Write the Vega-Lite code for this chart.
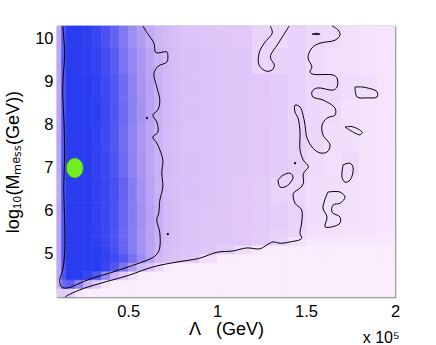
{
"$schema":"https://vega.github.io/schema/vega-lite/v6.json",
"width":338,"height":271,
"autosize":{"type":"none"},
"padding":{"left":57,"top":26,"right":41,"bottom":48},
"background":"white",
"title":{"text":"x 10⁵","orient":"bottom","anchor":"end","offset":-9,"fontSize":16,"fontWeight":"normal","font":"Liberation Sans","color":"black"},
"config":{"view":{"stroke":null},"axis":{"labelFont":"Liberation Sans","titleFont":"Liberation Sans","labelFontSize":16.5,"titleFontSize":18,"labelColor":"black","titleColor":"black","titleFontWeight":"normal","grid":false,"domainColor":"#808080","domainWidth":1.5,"tickColor":"#555555","tickSize":-4,"labelFlush":false,"zindex":1}},
"datasets":{
"cols":[{"c":1,"x0":0.1,"x1":0.125},{"c":2,"x0":0.125,"x1":0.15},{"c":3,"x0":0.15,"x1":0.2},{"c":4,"x0":0.2,"x1":0.25},{"c":5,"x0":0.25,"x1":0.3},{"c":6,"x0":0.3,"x1":0.35},{"c":7,"x0":0.35,"x1":0.4},{"c":8,"x0":0.4,"x1":0.45},{"c":9,"x0":0.45,"x1":0.5},{"c":10,"x0":0.5,"x1":0.55},{"c":11,"x0":0.55,"x1":0.6},{"c":12,"x0":0.6,"x1":0.65},{"c":13,"x0":0.65,"x1":0.7},{"c":14,"x0":0.7,"x1":0.75},{"c":15,"x0":0.75,"x1":0.8},{"c":16,"x0":0.8,"x1":0.9},{"c":17,"x0":0.9,"x1":1.0},{"c":18,"x0":1.0,"x1":1.1},{"c":19,"x0":1.1,"x1":1.2},{"c":20,"x0":1.2,"x1":1.3},{"c":21,"x0":1.3,"x1":1.4},{"c":22,"x0":1.4,"x1":1.5},{"c":23,"x0":1.5,"x1":1.6},{"c":24,"x0":1.6,"x1":1.7},{"c":25,"x0":1.7,"x1":1.8},{"c":26,"x0":1.8,"x1":1.9},{"c":27,"x0":1.9,"x1":2.0}],
"rows":[{"r":1,"y0":4.0,"y1":4.2},{"r":2,"y0":4.2,"y1":4.4},{"r":3,"y0":4.4,"y1":4.6},{"r":4,"y0":4.6,"y1":4.8},{"r":5,"y0":4.8,"y1":5.0},{"r":6,"y0":5.0,"y1":5.2},{"r":7,"y0":5.2,"y1":5.4},{"r":8,"y0":5.4,"y1":5.6},{"r":9,"y0":5.6,"y1":6.2},{"r":10,"y0":6.2,"y1":6.8},{"r":11,"y0":6.8,"y1":7.4},{"r":12,"y0":7.4,"y1":8.0},{"r":13,"y0":8.0,"y1":8.6},{"r":14,"y0":8.6,"y1":9.2},{"r":15,"y0":9.2,"y1":9.8},{"r":16,"y0":9.8,"y1":10.3}],
"cells":[
{"c":1,"r":1,"d":0.25},{"c":2,"r":1,"d":0.27},{"c":3,"r":1,"d":0.24},{"c":4,"r":1,"d":0.12},{"c":5,"r":1,"d":0.04},{"c":6,"r":1,"d":0.03},{"c":7,"r":1,"d":0.03},{"c":8,"r":1,"d":0.03},{"c":9,"r":1,"d":0.03},{"c":10,"r":1,"d":0.03},{"c":11,"r":1,"d":0.03},{"c":12,"r":1,"d":0.03},{"c":13,"r":1,"d":0.03},{"c":14,"r":1,"d":0.03},{"c":15,"r":1,"d":0.03},{"c":16,"r":1,"d":0.03},{"c":17,"r":1,"d":0.03},{"c":18,"r":1,"d":0.03},{"c":19,"r":1,"d":0.03},{"c":20,"r":1,"d":0.03},{"c":21,"r":1,"d":0.03},{"c":22,"r":1,"d":0.02},{"c":23,"r":1,"d":0.02},{"c":24,"r":1,"d":0.02},{"c":25,"r":1,"d":0.02},{"c":26,"r":1,"d":0.02},{"c":27,"r":1,"d":0.02},
{"c":1,"r":2,"d":0.4},{"c":2,"r":2,"d":0.75},{"c":3,"r":2,"d":0.8},{"c":4,"r":2,"d":0.62},{"c":5,"r":2,"d":0.38},{"c":6,"r":2,"d":0.26},{"c":7,"r":2,"d":0.1},{"c":8,"r":2,"d":0.03},{"c":9,"r":2,"d":0.03},{"c":10,"r":2,"d":0.03},{"c":11,"r":2,"d":0.03},{"c":12,"r":2,"d":0.03},{"c":13,"r":2,"d":0.03},{"c":14,"r":2,"d":0.03},{"c":15,"r":2,"d":0.03},{"c":16,"r":2,"d":0.03},{"c":17,"r":2,"d":0.03},{"c":18,"r":2,"d":0.03},{"c":19,"r":2,"d":0.03},{"c":20,"r":2,"d":0.03},{"c":21,"r":2,"d":0.03},{"c":22,"r":2,"d":0.03},{"c":23,"r":2,"d":0.03},{"c":24,"r":2,"d":0.03},{"c":25,"r":2,"d":0.03},{"c":26,"r":2,"d":0.03},{"c":27,"r":2,"d":0.03},
{"c":1,"r":3,"d":0.45},{"c":2,"r":3,"d":0.85},{"c":3,"r":3,"d":1},{"c":4,"r":3,"d":1},{"c":5,"r":3,"d":0.95},{"c":6,"r":3,"d":0.85},{"c":7,"r":3,"d":0.6},{"c":8,"r":3,"d":0.38},{"c":9,"r":3,"d":0.28},{"c":10,"r":3,"d":0.15},{"c":11,"r":3,"d":0.06},{"c":12,"r":3,"d":0.03},{"c":13,"r":3,"d":0.03},{"c":14,"r":3,"d":0.03},{"c":15,"r":3,"d":0.03},{"c":16,"r":3,"d":0.03},{"c":17,"r":3,"d":0.03},{"c":18,"r":3,"d":0.03},{"c":19,"r":3,"d":0.03},{"c":20,"r":3,"d":0.03},{"c":21,"r":3,"d":0.03},{"c":22,"r":3,"d":0.03},{"c":23,"r":3,"d":0.03},{"c":24,"r":3,"d":0.03},{"c":25,"r":3,"d":0.03},{"c":26,"r":3,"d":0.03},{"c":27,"r":3,"d":0.03},
{"c":1,"r":4,"d":0.45},{"c":2,"r":4,"d":0.85},{"c":3,"r":4,"d":1},{"c":4,"r":4,"d":1},{"c":5,"r":4,"d":1},{"c":6,"r":4,"d":1},{"c":7,"r":4,"d":0.95},{"c":8,"r":4,"d":0.85},{"c":9,"r":4,"d":0.7},{"c":10,"r":4,"d":0.5},{"c":11,"r":4,"d":0.36},{"c":12,"r":4,"d":0.3},{"c":13,"r":4,"d":0.18},{"c":14,"r":4,"d":0.07},{"c":15,"r":4,"d":0.04},{"c":16,"r":4,"d":0.03},{"c":17,"r":4,"d":0.03},{"c":18,"r":4,"d":0.03},{"c":19,"r":4,"d":0.03},{"c":20,"r":4,"d":0.03},{"c":21,"r":4,"d":0.03},{"c":22,"r":4,"d":0.03},{"c":23,"r":4,"d":0.03},{"c":24,"r":4,"d":0.03},{"c":25,"r":4,"d":0.03},{"c":26,"r":4,"d":0.03},{"c":27,"r":4,"d":0.03},
{"c":1,"r":5,"d":0.45},{"c":2,"r":5,"d":0.85},{"c":3,"r":5,"d":1},{"c":4,"r":5,"d":1},{"c":5,"r":5,"d":1},{"c":6,"r":5,"d":1},{"c":7,"r":5,"d":0.97},{"c":8,"r":5,"d":0.92},{"c":9,"r":5,"d":0.84},{"c":10,"r":5,"d":0.72},{"c":11,"r":5,"d":0.58},{"c":12,"r":5,"d":0.46},{"c":13,"r":5,"d":0.36},{"c":14,"r":5,"d":0.32},{"c":15,"r":5,"d":0.3},{"c":16,"r":5,"d":0.28},{"c":17,"r":5,"d":0.16},{"c":18,"r":5,"d":0.05},{"c":19,"r":5,"d":0.04},{"c":20,"r":5,"d":0.04},{"c":21,"r":5,"d":0.04},{"c":22,"r":5,"d":0.04},{"c":23,"r":5,"d":0.04},{"c":24,"r":5,"d":0.04},{"c":25,"r":5,"d":0.04},{"c":26,"r":5,"d":0.04},{"c":27,"r":5,"d":0.04},
{"c":1,"r":6,"d":0.45},{"c":2,"r":6,"d":0.85},{"c":3,"r":6,"d":1},{"c":4,"r":6,"d":1},{"c":5,"r":6,"d":1},{"c":6,"r":6,"d":1},{"c":7,"r":6,"d":0.96},{"c":8,"r":6,"d":0.88},{"c":9,"r":6,"d":0.78},{"c":10,"r":6,"d":0.66},{"c":11,"r":6,"d":0.55},{"c":12,"r":6,"d":0.46},{"c":13,"r":6,"d":0.38},{"c":14,"r":6,"d":0.33},{"c":15,"r":6,"d":0.31},{"c":16,"r":6,"d":0.3},{"c":17,"r":6,"d":0.29},{"c":18,"r":6,"d":0.25},{"c":19,"r":6,"d":0.16},{"c":20,"r":6,"d":0.07},{"c":21,"r":6,"d":0.05},{"c":22,"r":6,"d":0.05},{"c":23,"r":6,"d":0.05},{"c":24,"r":6,"d":0.05},{"c":25,"r":6,"d":0.04},{"c":26,"r":6,"d":0.04},{"c":27,"r":6,"d":0.04},
{"c":1,"r":7,"d":0.45},{"c":2,"r":7,"d":0.85},{"c":3,"r":7,"d":1},{"c":4,"r":7,"d":1},{"c":5,"r":7,"d":1},{"c":6,"r":7,"d":0.98},{"c":7,"r":7,"d":0.94},{"c":8,"r":7,"d":0.87},{"c":9,"r":7,"d":0.77},{"c":10,"r":7,"d":0.65},{"c":11,"r":7,"d":0.55},{"c":12,"r":7,"d":0.47},{"c":13,"r":7,"d":0.39},{"c":14,"r":7,"d":0.34},{"c":15,"r":7,"d":0.32},{"c":16,"r":7,"d":0.3},{"c":17,"r":7,"d":0.29},{"c":18,"r":7,"d":0.28},{"c":19,"r":7,"d":0.27},{"c":20,"r":7,"d":0.25},{"c":21,"r":7,"d":0.21},{"c":22,"r":7,"d":0.14},{"c":23,"r":7,"d":0.09},{"c":24,"r":7,"d":0.09},{"c":25,"r":7,"d":0.08},{"c":26,"r":7,"d":0.08},{"c":27,"r":7,"d":0.08},
{"c":1,"r":8,"d":0.45},{"c":2,"r":8,"d":0.85},{"c":3,"r":8,"d":1},{"c":4,"r":8,"d":1},{"c":5,"r":8,"d":1},{"c":6,"r":8,"d":0.97},{"c":7,"r":8,"d":0.93},{"c":8,"r":8,"d":0.86},{"c":9,"r":8,"d":0.76},{"c":10,"r":8,"d":0.65},{"c":11,"r":8,"d":0.55},{"c":12,"r":8,"d":0.47},{"c":13,"r":8,"d":0.4},{"c":14,"r":8,"d":0.35},{"c":15,"r":8,"d":0.32},{"c":16,"r":8,"d":0.3},{"c":17,"r":8,"d":0.29},{"c":18,"r":8,"d":0.28},{"c":19,"r":8,"d":0.27},{"c":20,"r":8,"d":0.26},{"c":21,"r":8,"d":0.23},{"c":22,"r":8,"d":0.2},{"c":23,"r":8,"d":0.14},{"c":24,"r":8,"d":0.13},{"c":25,"r":8,"d":0.12},{"c":26,"r":8,"d":0.11},{"c":27,"r":8,"d":0.1},
{"c":1,"r":9,"d":0.45},{"c":2,"r":9,"d":0.85},{"c":3,"r":9,"d":1},{"c":4,"r":9,"d":1},{"c":5,"r":9,"d":1},{"c":6,"r":9,"d":0.97},{"c":7,"r":9,"d":0.93},{"c":8,"r":9,"d":0.87},{"c":9,"r":9,"d":0.77},{"c":10,"r":9,"d":0.66},{"c":11,"r":9,"d":0.56},{"c":12,"r":9,"d":0.47},{"c":13,"r":9,"d":0.4},{"c":14,"r":9,"d":0.35},{"c":15,"r":9,"d":0.32},{"c":16,"r":9,"d":0.3},{"c":17,"r":9,"d":0.29},{"c":18,"r":9,"d":0.28},{"c":19,"r":9,"d":0.27},{"c":20,"r":9,"d":0.26},{"c":21,"r":9,"d":0.24},{"c":22,"r":9,"d":0.21},{"c":23,"r":9,"d":0.15},{"c":24,"r":9,"d":0.14},{"c":25,"r":9,"d":0.13},{"c":26,"r":9,"d":0.12},{"c":27,"r":9,"d":0.11},
{"c":1,"r":10,"d":0.44},{"c":2,"r":10,"d":0.85},{"c":3,"r":10,"d":1},{"c":4,"r":10,"d":1},{"c":5,"r":10,"d":1},{"c":6,"r":10,"d":0.97},{"c":7,"r":10,"d":0.94},{"c":8,"r":10,"d":0.88},{"c":9,"r":10,"d":0.78},{"c":10,"r":10,"d":0.66},{"c":11,"r":10,"d":0.55},{"c":12,"r":10,"d":0.46},{"c":13,"r":10,"d":0.39},{"c":14,"r":10,"d":0.34},{"c":15,"r":10,"d":0.32},{"c":16,"r":10,"d":0.31},{"c":17,"r":10,"d":0.3},{"c":18,"r":10,"d":0.28},{"c":19,"r":10,"d":0.27},{"c":20,"r":10,"d":0.26},{"c":21,"r":10,"d":0.21},{"c":22,"r":10,"d":0.2},{"c":23,"r":10,"d":0.15},{"c":24,"r":10,"d":0.15},{"c":25,"r":10,"d":0.13},{"c":26,"r":10,"d":0.12},{"c":27,"r":10,"d":0.11},
{"c":1,"r":11,"d":0.45},{"c":2,"r":11,"d":0.85},{"c":3,"r":11,"d":1},{"c":4,"r":11,"d":1},{"c":5,"r":11,"d":1},{"c":6,"r":11,"d":0.97},{"c":7,"r":11,"d":0.93},{"c":8,"r":11,"d":0.86},{"c":9,"r":11,"d":0.75},{"c":10,"r":11,"d":0.63},{"c":11,"r":11,"d":0.53},{"c":12,"r":11,"d":0.45},{"c":13,"r":11,"d":0.39},{"c":14,"r":11,"d":0.35},{"c":15,"r":11,"d":0.33},{"c":16,"r":11,"d":0.31},{"c":17,"r":11,"d":0.3},{"c":18,"r":11,"d":0.29},{"c":19,"r":11,"d":0.28},{"c":20,"r":11,"d":0.27},{"c":21,"r":11,"d":0.25},{"c":22,"r":11,"d":0.23},{"c":23,"r":11,"d":0.17},{"c":24,"r":11,"d":0.14},{"c":25,"r":11,"d":0.17},{"c":26,"r":11,"d":0.12},{"c":27,"r":11,"d":0.11},
{"c":1,"r":12,"d":0.46},{"c":2,"r":12,"d":0.85},{"c":3,"r":12,"d":1},{"c":4,"r":12,"d":1},{"c":5,"r":12,"d":1},{"c":6,"r":12,"d":0.97},{"c":7,"r":12,"d":0.92},{"c":8,"r":12,"d":0.84},{"c":9,"r":12,"d":0.73},{"c":10,"r":12,"d":0.62},{"c":11,"r":12,"d":0.52},{"c":12,"r":12,"d":0.45},{"c":13,"r":12,"d":0.38},{"c":14,"r":12,"d":0.34},{"c":15,"r":12,"d":0.32},{"c":16,"r":12,"d":0.3},{"c":17,"r":12,"d":0.3},{"c":18,"r":12,"d":0.29},{"c":19,"r":12,"d":0.28},{"c":20,"r":12,"d":0.27},{"c":21,"r":12,"d":0.25},{"c":22,"r":12,"d":0.23},{"c":23,"r":12,"d":0.19},{"c":24,"r":12,"d":0.15},{"c":25,"r":12,"d":0.15},{"c":26,"r":12,"d":0.12},{"c":27,"r":12,"d":0.11},
{"c":1,"r":13,"d":0.45},{"c":2,"r":13,"d":0.85},{"c":3,"r":13,"d":1},{"c":4,"r":13,"d":1},{"c":5,"r":13,"d":1},{"c":6,"r":13,"d":0.98},{"c":7,"r":13,"d":0.93},{"c":8,"r":13,"d":0.85},{"c":9,"r":13,"d":0.75},{"c":10,"r":13,"d":0.64},{"c":11,"r":13,"d":0.54},{"c":12,"r":13,"d":0.46},{"c":13,"r":13,"d":0.39},{"c":14,"r":13,"d":0.35},{"c":15,"r":13,"d":0.33},{"c":16,"r":13,"d":0.31},{"c":17,"r":13,"d":0.3},{"c":18,"r":13,"d":0.29},{"c":19,"r":13,"d":0.28},{"c":20,"r":13,"d":0.27},{"c":21,"r":13,"d":0.26},{"c":22,"r":13,"d":0.22},{"c":23,"r":13,"d":0.18},{"c":24,"r":13,"d":0.17},{"c":25,"r":13,"d":0.13},{"c":26,"r":13,"d":0.12},{"c":27,"r":13,"d":0.11},
{"c":1,"r":14,"d":0.45},{"c":2,"r":14,"d":0.85},{"c":3,"r":14,"d":1},{"c":4,"r":14,"d":1},{"c":5,"r":14,"d":1},{"c":6,"r":14,"d":0.97},{"c":7,"r":14,"d":0.92},{"c":8,"r":14,"d":0.84},{"c":9,"r":14,"d":0.74},{"c":10,"r":14,"d":0.63},{"c":11,"r":14,"d":0.53},{"c":12,"r":14,"d":0.46},{"c":13,"r":14,"d":0.39},{"c":14,"r":14,"d":0.35},{"c":15,"r":14,"d":0.33},{"c":16,"r":14,"d":0.31},{"c":17,"r":14,"d":0.3},{"c":18,"r":14,"d":0.29},{"c":19,"r":14,"d":0.28},{"c":20,"r":14,"d":0.27},{"c":21,"r":14,"d":0.25},{"c":22,"r":14,"d":0.23},{"c":23,"r":14,"d":0.19},{"c":24,"r":14,"d":0.18},{"c":25,"r":14,"d":0.16},{"c":26,"r":14,"d":0.15},{"c":27,"r":14,"d":0.11},
{"c":1,"r":15,"d":0.44},{"c":2,"r":15,"d":0.84},{"c":3,"r":15,"d":1},{"c":4,"r":15,"d":1},{"c":5,"r":15,"d":0.99},{"c":6,"r":15,"d":0.96},{"c":7,"r":15,"d":0.9},{"c":8,"r":15,"d":0.82},{"c":9,"r":15,"d":0.71},{"c":10,"r":15,"d":0.61},{"c":11,"r":15,"d":0.52},{"c":12,"r":15,"d":0.45},{"c":13,"r":15,"d":0.39},{"c":14,"r":15,"d":0.35},{"c":15,"r":15,"d":0.33},{"c":16,"r":15,"d":0.31},{"c":17,"r":15,"d":0.3},{"c":18,"r":15,"d":0.29},{"c":19,"r":15,"d":0.28},{"c":20,"r":15,"d":0.2},{"c":21,"r":15,"d":0.21},{"c":22,"r":15,"d":0.23},{"c":23,"r":15,"d":0.17},{"c":24,"r":15,"d":0.14},{"c":25,"r":15,"d":0.13},{"c":26,"r":15,"d":0.12},{"c":27,"r":15,"d":0.11},
{"c":1,"r":16,"d":0.44},{"c":2,"r":16,"d":0.83},{"c":3,"r":16,"d":1},{"c":4,"r":16,"d":1},{"c":5,"r":16,"d":0.98},{"c":6,"r":16,"d":0.94},{"c":7,"r":16,"d":0.87},{"c":8,"r":16,"d":0.78},{"c":9,"r":16,"d":0.68},{"c":10,"r":16,"d":0.57},{"c":11,"r":16,"d":0.49},{"c":12,"r":16,"d":0.42},{"c":13,"r":16,"d":0.37},{"c":14,"r":16,"d":0.34},{"c":15,"r":16,"d":0.32},{"c":16,"r":16,"d":0.3},{"c":17,"r":16,"d":0.29},{"c":18,"r":16,"d":0.28},{"c":19,"r":16,"d":0.27},{"c":20,"r":16,"d":0.21},{"c":21,"r":16,"d":0.18},{"c":22,"r":16,"d":0.22},{"c":23,"r":16,"d":0.18},{"c":24,"r":16,"d":0.17},{"c":25,"r":16,"d":0.14},{"c":26,"r":16,"d":0.12},{"c":27,"r":16,"d":0.11}
],
"contours":[
{"curve":"in","k":1,"lam":0.132,"logm":10.3},{"curve":"in","k":2,"lam":0.143,"logm":9.67},{"curve":"in","k":3,"lam":0.132,"logm":8.88},{"curve":"in","k":4,"lam":0.14,"logm":8.0},{"curve":"in","k":5,"lam":0.143,"logm":7.35},{"curve":"in","k":6,"lam":0.138,"logm":6.5},{"curve":"in","k":7,"lam":0.143,"logm":5.79},{"curve":"in","k":8,"lam":0.143,"logm":5.02},{"curve":"in","k":9,"lam":0.132,"logm":4.63},{"curve":"in","k":10,"lam":0.115,"logm":4.39},{"curve":"in","k":11,"lam":0.126,"logm":4.23},{"curve":"in","k":12,"lam":0.16,"logm":4.21},{"curve":"in","k":13,"lam":0.216,"logm":4.3},{"curve":"in","k":14,"lam":0.3,"logm":4.44},{"curve":"in","k":15,"lam":0.4,"logm":4.56},{"curve":"in","k":16,"lam":0.5,"logm":4.7},{"curve":"in","k":17,"lam":0.59,"logm":4.83},{"curve":"in","k":18,"lam":0.65,"logm":4.95},{"curve":"in","k":19,"lam":0.675,"logm":5.1},{"curve":"in","k":20,"lam":0.678,"logm":5.49},{"curve":"in","k":21,"lam":0.661,"logm":5.79},{"curve":"in","k":22,"lam":0.672,"logm":5.95},{"curve":"in","k":23,"lam":0.678,"logm":6.25},{"curve":"in","k":24,"lam":0.695,"logm":6.56},{"curve":"in","k":25,"lam":0.689,"logm":6.88},{"curve":"in","k":26,"lam":0.695,"logm":7.18},{"curve":"in","k":27,"lam":0.678,"logm":7.42},{"curve":"in","k":28,"lam":0.661,"logm":7.58},{"curve":"in","k":29,"lam":0.639,"logm":7.72},{"curve":"in","k":30,"lam":0.667,"logm":7.83},{"curve":"in","k":31,"lam":0.661,"logm":8.07},{"curve":"in","k":32,"lam":0.639,"logm":8.23},{"curve":"in","k":33,"lam":0.667,"logm":8.35},{"curve":"in","k":34,"lam":0.678,"logm":8.58},{"curve":"in","k":35,"lam":0.661,"logm":8.88},{"curve":"in","k":36,"lam":0.645,"logm":9.2},{"curve":"in","k":37,"lam":0.67,"logm":9.37},{"curve":"in","k":38,"lam":0.717,"logm":9.46},{"curve":"in","k":39,"lam":0.723,"logm":9.62},{"curve":"in","k":40,"lam":0.717,"logm":9.7},{"curve":"in","k":41,"lam":0.656,"logm":9.68},{"curve":"in","k":42,"lam":0.645,"logm":9.9},{"curve":"in","k":43,"lam":0.61,"logm":10.12},{"curve":"in","k":44,"lam":0.582,"logm":10.3},
{"curve":"out","k":1,"lam":0.145,"logm":4.0},{"curve":"out","k":2,"lam":0.17,"logm":4.06},{"curve":"out","k":3,"lam":0.25,"logm":4.2},{"curve":"out","k":4,"lam":0.38,"logm":4.36},{"curve":"out","k":5,"lam":0.5,"logm":4.5},{"curve":"out","k":6,"lam":0.64,"logm":4.7},{"curve":"out","k":7,"lam":0.77,"logm":4.81},{"curve":"out","k":8,"lam":0.9,"logm":4.9},{"curve":"out","k":9,"lam":0.999,"logm":5.04},{"curve":"out","k":10,"lam":1.088,"logm":5.07},{"curve":"out","k":11,"lam":1.167,"logm":5.14},{"curve":"out","k":12,"lam":1.24,"logm":5.12},{"curve":"out","k":13,"lam":1.28,"logm":5.21},{"curve":"out","k":14,"lam":1.314,"logm":5.28},{"curve":"out","k":15,"lam":1.354,"logm":5.25},{"curve":"out","k":16,"lam":1.41,"logm":5.28},{"curve":"out","k":17,"lam":1.475,"logm":5.36},{"curve":"out","k":18,"lam":1.466,"logm":5.48},{"curve":"out","k":19,"lam":1.475,"logm":5.72},{"curve":"out","k":20,"lam":1.475,"logm":6.03},{"curve":"out","k":21,"lam":1.438,"logm":6.18},{"curve":"out","k":22,"lam":1.429,"logm":6.41},{"curve":"out","k":23,"lam":1.466,"logm":6.53},{"curve":"out","k":24,"lam":1.485,"logm":6.64},{"curve":"out","k":25,"lam":1.485,"logm":6.87},{"curve":"out","k":26,"lam":1.513,"logm":7.03},{"curve":"out","k":27,"lam":1.485,"logm":7.18},{"curve":"out","k":28,"lam":1.466,"logm":7.42},{"curve":"out","k":29,"lam":1.466,"logm":7.84},{"curve":"out","k":30,"lam":1.455,"logm":8.16},{"curve":"out","k":31,"lam":1.438,"logm":8.3},{"curve":"out","k":32,"lam":1.438,"logm":8.46},{"curve":"out","k":33,"lam":1.466,"logm":8.42},{"curve":"out","k":34,"lam":1.483,"logm":8.23},{"curve":"out","k":35,"lam":1.494,"logm":8.0},{"curve":"out","k":36,"lam":1.505,"logm":7.7},{"curve":"out","k":37,"lam":1.539,"logm":7.46},{"curve":"out","k":38,"lam":1.578,"logm":7.35},{"curve":"out","k":39,"lam":1.618,"logm":7.37},{"curve":"out","k":40,"lam":1.635,"logm":7.53},{"curve":"out","k":41,"lam":1.595,"logm":7.77},{"curve":"out","k":42,"lam":1.59,"logm":8.0},{"curve":"out","k":43,"lam":1.618,"logm":8.16},{"curve":"out","k":44,"lam":1.663,"logm":8.23},{"curve":"out","k":45,"lam":1.663,"logm":8.39},{"curve":"out","k":46,"lam":1.595,"logm":8.58},{"curve":"out","k":47,"lam":1.539,"logm":8.65},{"curve":"out","k":48,"lam":1.533,"logm":8.77},{"curve":"out","k":49,"lam":1.562,"logm":8.86},{"curve":"out","k":50,"lam":1.652,"logm":8.81},{"curve":"out","k":51,"lam":1.674,"logm":8.88},{"curve":"out","k":52,"lam":1.674,"logm":9.09},{"curve":"out","k":53,"lam":1.652,"logm":9.16},{"curve":"out","k":54,"lam":1.539,"logm":9.18},{"curve":"out","k":55,"lam":1.522,"logm":9.23},{"curve":"out","k":56,"lam":1.533,"logm":9.35},{"curve":"out","k":57,"lam":1.511,"logm":9.56},{"curve":"out","k":58,"lam":1.533,"logm":9.79},{"curve":"out","k":59,"lam":1.578,"logm":9.9},{"curve":"out","k":60,"lam":1.663,"logm":9.97},{"curve":"out","k":61,"lam":1.691,"logm":10.09},{"curve":"out","k":62,"lam":1.68,"logm":10.21},{"curve":"out","k":63,"lam":1.646,"logm":10.3},
{"curve":"u","k":1,"lam":1.299,"logm":10.3},{"curve":"u","k":2,"lam":1.31,"logm":10.14},{"curve":"u","k":3,"lam":1.265,"logm":9.9},{"curve":"u","k":4,"lam":1.236,"logm":9.67},{"curve":"u","k":5,"lam":1.236,"logm":9.39},{"curve":"u","k":6,"lam":1.276,"logm":9.25},{"curve":"u","k":7,"lam":1.31,"logm":9.28},{"curve":"u","k":8,"lam":1.322,"logm":9.39},{"curve":"u","k":9,"lam":1.299,"logm":9.58},{"curve":"u","k":10,"lam":1.338,"logm":9.86},{"curve":"u","k":11,"lam":1.366,"logm":10.04},{"curve":"u","k":12,"lam":1.405,"logm":10.3},
{"curve":"dash","k":1,"lam":1.534,"logm":10.11},{"curve":"dash","k":2,"lam":1.555,"logm":10.13},{"curve":"dash","k":3,"lam":1.579,"logm":10.11},{"curve":"dash","k":4,"lam":1.555,"logm":10.1},{"curve":"dash","k":5,"lam":1.534,"logm":10.11},
{"curve":"c","k":1,"lam":1.342,"logm":6.72},{"curve":"c","k":2,"lam":1.37,"logm":6.83},{"curve":"c","k":3,"lam":1.41,"logm":6.88},{"curve":"c","k":4,"lam":1.427,"logm":6.79},{"curve":"c","k":5,"lam":1.41,"logm":6.65},{"curve":"c","k":6,"lam":1.382,"logm":6.56},{"curve":"c","k":7,"lam":1.353,"logm":6.56},{"curve":"c","k":8,"lam":1.342,"logm":6.72},
{"curve":"d","k":1,"lam":1.708,"logm":7.07},{"curve":"d","k":2,"lam":1.748,"logm":7.11},{"curve":"d","k":3,"lam":1.765,"logm":7.0},{"curve":"d","k":4,"lam":1.748,"logm":6.72},{"curve":"d","k":5,"lam":1.719,"logm":6.67},{"curve":"d","k":6,"lam":1.702,"logm":6.79},{"curve":"d","k":7,"lam":1.708,"logm":7.07},
{"curve":"e","k":1,"lam":1.623,"logm":6.44},{"curve":"e","k":2,"lam":1.691,"logm":6.44},{"curve":"e","k":3,"lam":1.719,"logm":6.32},{"curve":"e","k":4,"lam":1.691,"logm":6.18},{"curve":"e","k":5,"lam":1.652,"logm":6.14},{"curve":"e","k":6,"lam":1.646,"logm":5.97},{"curve":"e","k":7,"lam":1.691,"logm":5.86},{"curve":"e","k":8,"lam":1.691,"logm":5.72},{"curve":"e","k":9,"lam":1.663,"logm":5.65},{"curve":"e","k":10,"lam":1.607,"logm":5.63},{"curve":"e","k":11,"lam":1.618,"logm":5.86},{"curve":"e","k":12,"lam":1.595,"logm":6.07},{"curve":"e","k":13,"lam":1.623,"logm":6.44},
{"curve":"f","k":1,"lam":1.775,"logm":8.88},{"curve":"f","k":2,"lam":1.82,"logm":8.88},{"curve":"f","k":3,"lam":1.899,"logm":8.77},{"curve":"f","k":4,"lam":1.899,"logm":8.65},{"curve":"f","k":5,"lam":1.843,"logm":8.63},{"curve":"f","k":6,"lam":1.787,"logm":8.65},{"curve":"f","k":7,"lam":1.775,"logm":8.88},
{"curve":"g","k":1,"lam":1.719,"logm":7.95},{"curve":"g","k":2,"lam":1.759,"logm":7.96},{"curve":"g","k":3,"lam":1.815,"logm":7.83},{"curve":"g","k":4,"lam":1.804,"logm":7.77},{"curve":"g","k":5,"lam":1.775,"logm":7.81},{"curve":"g","k":6,"lam":1.719,"logm":7.95}
],
"dots":[{"lam":0.606,"logm":8.16},{"lam":0.723,"logm":5.46},{"lam":1.438,"logm":7.11}],
"best":[{"lam":0.2,"logm":7.0}]
},
"layer":[
{"data":{"name":"cells"},
 "transform":[{"lookup":"c","from":{"data":{"name":"cols"},"key":"c","fields":["x0","x1"]}},{"lookup":"r","from":{"data":{"name":"rows"},"key":"r","fields":["y0","y1"]}}],
 "mark":{"type":"rect","strokeWidth":0.6},
 "encoding":{
  "x":{"field":"x0","type":"quantitative","scale":{"domain":[0.1,2],"nice":false,"zero":false},"axis":{"orient":"bottom","values":[0.5,1,1.5,2],"format":"~g","title":"Λ\u00a0\u00a0\u00a0(GeV)","labelPadding":10,"titlePadding":1}},
  "x2":{"field":"x1"},
  "y":{"field":"y0","type":"quantitative","scale":{"domain":[4,10.3],"nice":false,"zero":false},"axis":{"orient":"left","values":[5,6,7,8,9,10],"title":"log₁₀(Mₘₑₛₛ(GeV))","labelPadding":8,"titlePadding":12}},
  "y2":{"field":"y1"},
  "fill":{"field":"d","type":"quantitative","legend":null,"scale":{"type":"linear","domain":[0,0.1,0.2,0.3,0.4,0.5,0.6,0.7,0.8,0.9,1],"range":["#fdf1fc","#f7e6fc","#ebd5fb","#dcc3f8","#c8aff5","#b09bf3","#9488f2","#7a75f1","#5e5ff1","#434cf1","#2a3cf0"],"interpolate":"rgb"}},
  "stroke":{"field":"d","type":"quantitative","legend":null,"scale":{"type":"linear","domain":[0,0.1,0.2,0.3,0.4,0.5,0.6,0.7,0.8,0.9,1],"range":["#fdf1fc","#f7e6fc","#ebd5fb","#dcc3f8","#c8aff5","#b09bf3","#9488f2","#7a75f1","#5e5ff1","#434cf1","#2a3cf0"],"interpolate":"rgb"}}
 }},
{"data":{"name":"contours"},
 "mark":{"type":"line","color":"black","strokeWidth":1,"interpolate":"catmull-rom"},
 "encoding":{
  "x":{"field":"lam","type":"quantitative","scale":{"domain":[0.1,2],"nice":false,"zero":false},"axis":{"orient":"top","values":[0.5,1,1.5],"labels":false,"title":null}},
  "y":{"field":"logm","type":"quantitative","scale":{"domain":[4,10.3],"nice":false,"zero":false},"axis":{"orient":"right","values":[5,6,7,8,9,10],"labels":false,"title":null}},
  "detail":{"field":"curve","type":"nominal"},
  "order":{"field":"k","type":"quantitative"}
 }},
{"data":{"name":"dots"},
 "mark":{"type":"point","filled":true,"color":"black","size":5,"opacity":1},
 "encoding":{"x":{"field":"lam","type":"quantitative","axis":null},"y":{"field":"logm","type":"quantitative","axis":null}}},
{"data":{"name":"best"},
 "mark":{"type":"point","shape":"M-0.84,0A0.84,1,0,1,0,0.84,0A0.84,1,0,1,0,-0.84,0Z","size":380,"filled":true,"fill":"#70ee1e","stroke":"#5cc818","strokeWidth":0.6,"opacity":1},
 "encoding":{"x":{"field":"lam","type":"quantitative","axis":null},"y":{"field":"logm","type":"quantitative","axis":null}}}
],
"resolve":{"axis":{"x":"independent","y":"independent"}}
}
